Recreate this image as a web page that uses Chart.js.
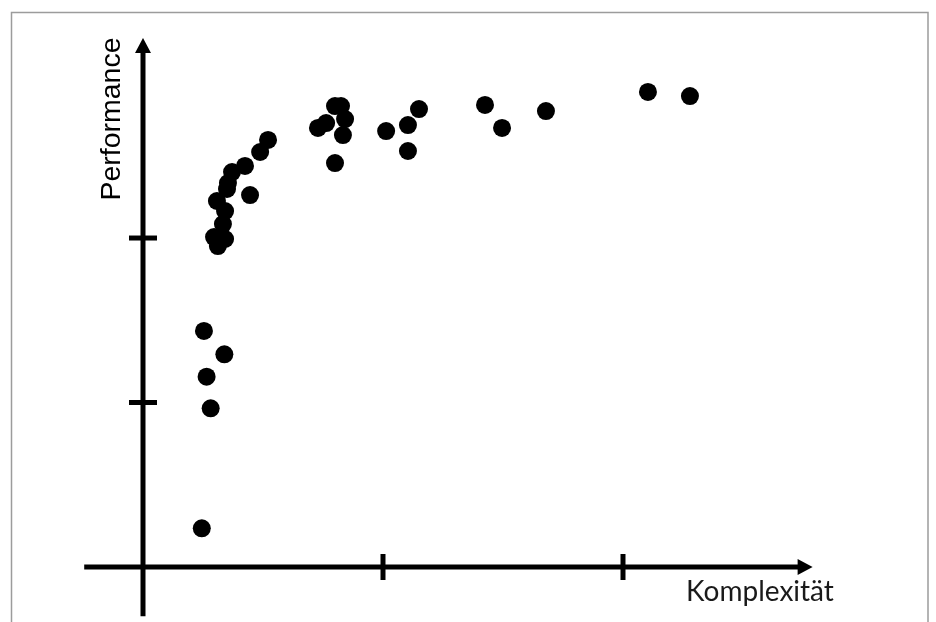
<!DOCTYPE html>
<html>
<head>
<meta charset="utf-8">
<script src="https://cdn.jsdelivr.net/npm/chart.js@4/dist/chart.umd.min.js"></script>
<style>
  html, body { margin: 0; padding: 0; background: #ffffff; }
  #wrap { width: 936px; height: 622px; position: relative; }
  #chart { display: block; }
</style>
</head>
<body>
<div id="wrap"><canvas id="chart"></canvas></div>
<script>
// Komplexität (x) vs. Performance (y), in axis units
const complexity = [
  0.245, 0.282, 0.265, 0.339, 0.254,
  0.312, 0.296, 0.342, 0.333, 0.342, 0.308, 0.350, 0.354, 0.371, 0.425, 0.446, 0.488, 0.521,
  0.729, 0.763, 0.800, 0.825, 0.842, 0.833, 0.800,
  1.013, 1.104, 1.150, 1.104,
  1.425, 1.496, 1.679, 2.104, 2.279
];
const performance = [
  0.235, 0.965, 1.157, 1.293, 1.435,
  1.951, 2.006, 1.994, 2.085, 2.164, 2.225, 2.298, 2.334, 2.401, 2.438, 2.261, 2.523, 2.596,
  2.669, 2.699, 2.802, 2.802, 2.723, 2.626, 2.456,
  2.650, 2.687, 2.784, 2.529,
  2.809, 2.669, 2.772, 2.888, 2.863
];
const xTicks = [1, 2];
const yTicks = [1, 2];
const xTitle = 'Komplexität';
const yTitle = 'Performance';

const points = complexity.map((x, i) => ({ x: x, y: performance[i] }));

// Hand-drawn style axes: arrows, cross ticks, titles and the frame
const axesPlugin = {
  id: 'arrowAxes',
  beforeDatasetsDraw(chart) {
    const ctx = chart.ctx;
    const xs = chart.scales.x, ys = chart.scales.y;
    const x0 = xs.getPixelForValue(0);
    const y0 = ys.getPixelForValue(0);
    const xEnd = xs.getPixelForValue(xs.max);
    const xStart = xs.getPixelForValue(xs.min);
    const yEnd = ys.getPixelForValue(ys.max);
    const yStart = ys.getPixelForValue(ys.min);

    ctx.save();
    // frame
    ctx.strokeStyle = '#9c9c9c';
    ctx.lineWidth = 1.5;
    ctx.beginPath();
    ctx.moveTo(11.5, 640);
    ctx.lineTo(11.5, 12.5);
    ctx.lineTo(928, 12.5);
    ctx.lineTo(928, 640);
    ctx.stroke();

    ctx.strokeStyle = '#000';
    ctx.fillStyle = '#000';
    ctx.lineWidth = 5;
    ctx.lineCap = 'butt';

    // x axis with arrow head
    const head = 15, half = 8;
    ctx.beginPath();
    ctx.moveTo(xStart, y0);
    ctx.lineTo(xEnd - head + 1, y0);
    ctx.stroke();
    ctx.beginPath();
    ctx.moveTo(xEnd, y0);
    ctx.lineTo(xEnd - head, y0 - half);
    ctx.lineTo(xEnd - head, y0 + half);
    ctx.closePath();
    ctx.fill();

    // y axis with arrow head
    ctx.beginPath();
    ctx.moveTo(x0, yStart);
    ctx.lineTo(x0, yEnd + head - 1);
    ctx.stroke();
    ctx.beginPath();
    ctx.moveTo(x0, yEnd);
    ctx.lineTo(x0 - half, yEnd + head);
    ctx.lineTo(x0 + half, yEnd + head);
    ctx.closePath();
    ctx.fill();

    // ticks
    xTicks.forEach(v => {
      const px = xs.getPixelForValue(v);
      ctx.beginPath();
      ctx.moveTo(px, y0 - 13);
      ctx.lineTo(px, y0 + 13);
      ctx.stroke();
    });
    yTicks.forEach(v => {
      const py = ys.getPixelForValue(v);
      ctx.beginPath();
      ctx.moveTo(x0 - 14, py);
      ctx.lineTo(x0 + 14, py);
      ctx.stroke();
    });

    // titles
    ctx.fillStyle = '#1a1a1a';
    ctx.font = '28px Lato, "Open Sans", sans-serif';
    ctx.textAlign = 'center';
    ctx.textBaseline = 'alphabetic';
    ctx.fillText(xTitle, 760, 601);

    ctx.fillStyle = '#000';
    ctx.font = '28.5px "Liberation Sans", Arial, sans-serif';
    ctx.translate(120, 119);
    ctx.rotate(-Math.PI / 2);
    ctx.fillText(yTitle, 0, 0);
    ctx.restore();
  }
};

new Chart(document.getElementById('chart'), {
  type: 'scatter',
  data: {
    datasets: [{
      data: points,
      pointRadius: 9,
      pointHoverRadius: 9,
      backgroundColor: '#000',
      borderWidth: 0
    }]
  },
  options: {
    responsive: true,
    maintainAspectRatio: false,
    animation: false,
    events: [],
    layout: {
      autoPadding: false,
      padding: { left: 84.2, right: 123.4, top: 38, bottom: 5.65 }
    },
    plugins: { legend: { display: false }, tooltip: { enabled: false } },
    scales: {
      x: { type: 'linear', min: -0.245, max: 2.79, display: false },
      y: { type: 'linear', min: -0.3, max: 3.216, display: false }
    }
  },
  plugins: [axesPlugin]
});
</script>
</body>
</html>
